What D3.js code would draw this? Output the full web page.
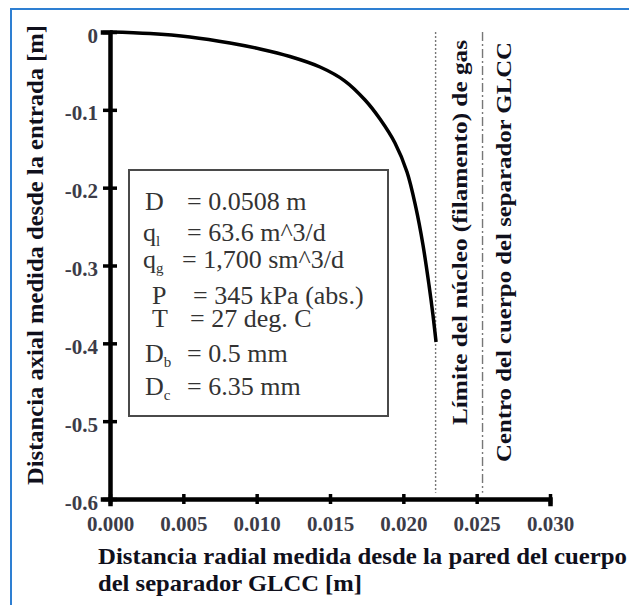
<!DOCTYPE html>
<html>
<head>
<meta charset="utf-8">
<script src="https://cdn.jsdelivr.net/npm/d3@7"></script>
<style>
  body { margin: 0; background: #fff; }
  svg { display: block; }
</style>
</head>
<body>
<svg id="chart" width="629" height="605"></svg>
<script>
// trajectory of the bubble (radial distance from wall, axial distance from inlet)
const radialPos = [0, 0.00273, 0.00545, 0.00818, 0.01023, 0.01227, 0.01432, 0.01602, 0.01739, 0.01841, 0.01943, 0.02025, 0.02086, 0.02134, 0.02175, 0.02202, 0.02223];
const axialPos  = [0, -0.002, -0.0064, -0.0141, -0.0218, -0.0315, -0.045, -0.063, -0.0874, -0.1118, -0.1426, -0.1799, -0.2261, -0.2737, -0.3251, -0.3636, -0.3983];

const xTicks = [0, 0.005, 0.010, 0.015, 0.020, 0.025, 0.030];
const yTicks = [0, -0.1, -0.2, -0.3, -0.4, -0.5, -0.6];

const coreLimit = 0.0222;   // limite del nucleo de gas
const bodyCenter = 0.0254;  // centro del cuerpo (D/2)

const legendSym = ["D", "q", "q", "P", "T", "D", "D"];
const legendSub = ["", "l", "g", "", "", "b", "c"];
const legendVal = ["= 0.0508 m", "= 63.6 m^3/d", "= 1,700 sm^3/d", "= 345 kPa (abs.)", "= 27 deg. C", "= 0.5 mm", "= 6.35 mm"];

// hand placement of the legend rows (the original is not evenly spaced)
const legendLayout = [
  { sx: 145, vx: 187, y: 210 },
  { sx: 143, vx: 187, y: 241 },
  { sx: 143, vx: 182, y: 268 },
  { sx: 152, vx: 193, y: 304 },
  { sx: 152, vx: 190, y: 327 },
  { sx: 145, vx: 187, y: 362 },
  { sx: 145, vx: 187, y: 395 }
];

const svg = d3.select("#chart");
const serif = "Liberation Serif";

const x = d3.scaleLinear().domain([0, 0.03]).range([110, 550]);
const y = d3.scaleLinear().domain([-0.6, 0]).range([499, 32]);

// blue frame (only top and left visible)
svg.append("path")
  .attr("d", "M11,605 V9 H629")
  .attr("fill", "none")
  .attr("stroke", "#2e7fd2")
  .attr("stroke-width", 2);

// vertical reference lines
svg.append("line")
  .attr("x1", x(coreLimit)).attr("x2", x(coreLimit))
  .attr("y1", y(0)).attr("y2", y(-0.592))
  .attr("stroke", "#777").attr("stroke-width", 1.4)
  .attr("stroke-dasharray", "2,2");

svg.append("line")
  .attr("x1", x(bodyCenter)).attr("x2", x(bodyCenter))
  .attr("y1", y(0)).attr("y2", y(-0.592))
  .attr("stroke", "#777").attr("stroke-width", 1.4)
  .attr("stroke-dasharray", "9,3,2,3");

// legend box
svg.append("rect")
  .attr("x", 129).attr("y", 170)
  .attr("width", 259).attr("height", 246)
  .attr("fill", "#fff")
  .attr("stroke", "#4a4a4a")
  .attr("stroke-width", 2);

const rows = svg.append("g")
  .attr("font-family", serif)
  .attr("font-size", 26)
  .attr("fill", "#333");

legendSym.forEach((s, i) => {
  const L = legendLayout[i];
  const t = rows.append("text").attr("x", L.sx).attr("y", L.y);
  t.append("tspan").text(s);
  if (legendSub[i]) {
    t.append("tspan")
      .attr("font-size", 15)
      .attr("dy", 5)
      .text(legendSub[i]);
  }
  rows.append("text")
    .attr("x", L.vx).attr("y", L.y)
    .text(legendVal[i]);
});

// trajectory curve
const line = d3.line()
  .x((d, i) => x(radialPos[i]))
  .y(d => y(d))
  .curve(d3.curveCatmullRom.alpha(0.5));

svg.append("path")
  .datum(axialPos)
  .attr("d", line)
  .attr("fill", "none")
  .attr("stroke", "#000")
  .attr("stroke-width", 3.5);

// axes
const yAxis = svg.append("g")
  .attr("transform", `translate(${x(0)},0)`)
  .call(d3.axisLeft(y).tickValues(yTicks).tickSize(7)
    .tickFormat(d => d === 0 ? "0" : d3.format(".1f")(d).replace("−", "-")));

yAxis.select(".domain").attr("stroke", "#000").attr("stroke-width", 4.5);
yAxis.selectAll(".tick line")
  .attr("x1", 7).attr("x2", -7)
  .attr("stroke", "#000").attr("stroke-width", 3.5);
yAxis.selectAll(".tick text")
  .attr("x", -12).attr("dy", 10)
  .attr("font-family", serif).attr("font-weight", "bold")
  .attr("font-size", 21).attr("fill", "#3c3c48");

const xAxis = svg.append("g")
  .attr("transform", `translate(0,${y(-0.6)})`)
  .call(d3.axisBottom(x).tickValues(xTicks).tickSize(5)
    .tickFormat(d3.format(".3f")));

xAxis.select(".domain").attr("stroke", "#000").attr("stroke-width", 4.5);
xAxis.selectAll(".tick line")
  .attr("y1", -5).attr("y2", 5)
  .attr("stroke", "#000").attr("stroke-width", 3.5);
xAxis.selectAll(".tick text")
  .attr("y", 32).attr("dy", 0)
  .attr("font-family", serif).attr("font-weight", "bold")
  .attr("font-size", 21).attr("fill", "#3c3c48");

svg.selectAll(".domain").attr("stroke-linecap", "square");

// axis titles
const titles = svg.append("g")
  .attr("font-family", serif)
  .attr("font-weight", "bold")
  .attr("font-size", 23)
  .attr("fill", "#10101c");

titles.append("text")
  .attr("x", 98).attr("y", 564)
  .attr("textLength", 529).attr("lengthAdjust", "spacingAndGlyphs")
  .text("Distancia radial medida desde la pared del cuerpo");

titles.append("text")
  .attr("x", 98).attr("y", 591)
  .attr("textLength", 264).attr("lengthAdjust", "spacingAndGlyphs")
  .text("del separador GLCC [m]");

titles.append("text")
  .attr("transform", "translate(43,485) rotate(-90)")
  .attr("textLength", 460).attr("lengthAdjust", "spacingAndGlyphs")
  .text("Distancia axial medida desde la entrada [m]");

titles.append("text")
  .attr("transform", "translate(467,425) rotate(-90)")
  .attr("font-size", 22)
  .attr("textLength", 385).attr("lengthAdjust", "spacingAndGlyphs")
  .text("Límite del núcleo (filamento) de gas");

titles.append("text")
  .attr("transform", "translate(511,462) rotate(-90)")
  .attr("font-size", 22)
  .attr("textLength", 420).attr("lengthAdjust", "spacingAndGlyphs")
  .text("Centro del cuerpo del separador GLCC");
</script>
</body>
</html>
